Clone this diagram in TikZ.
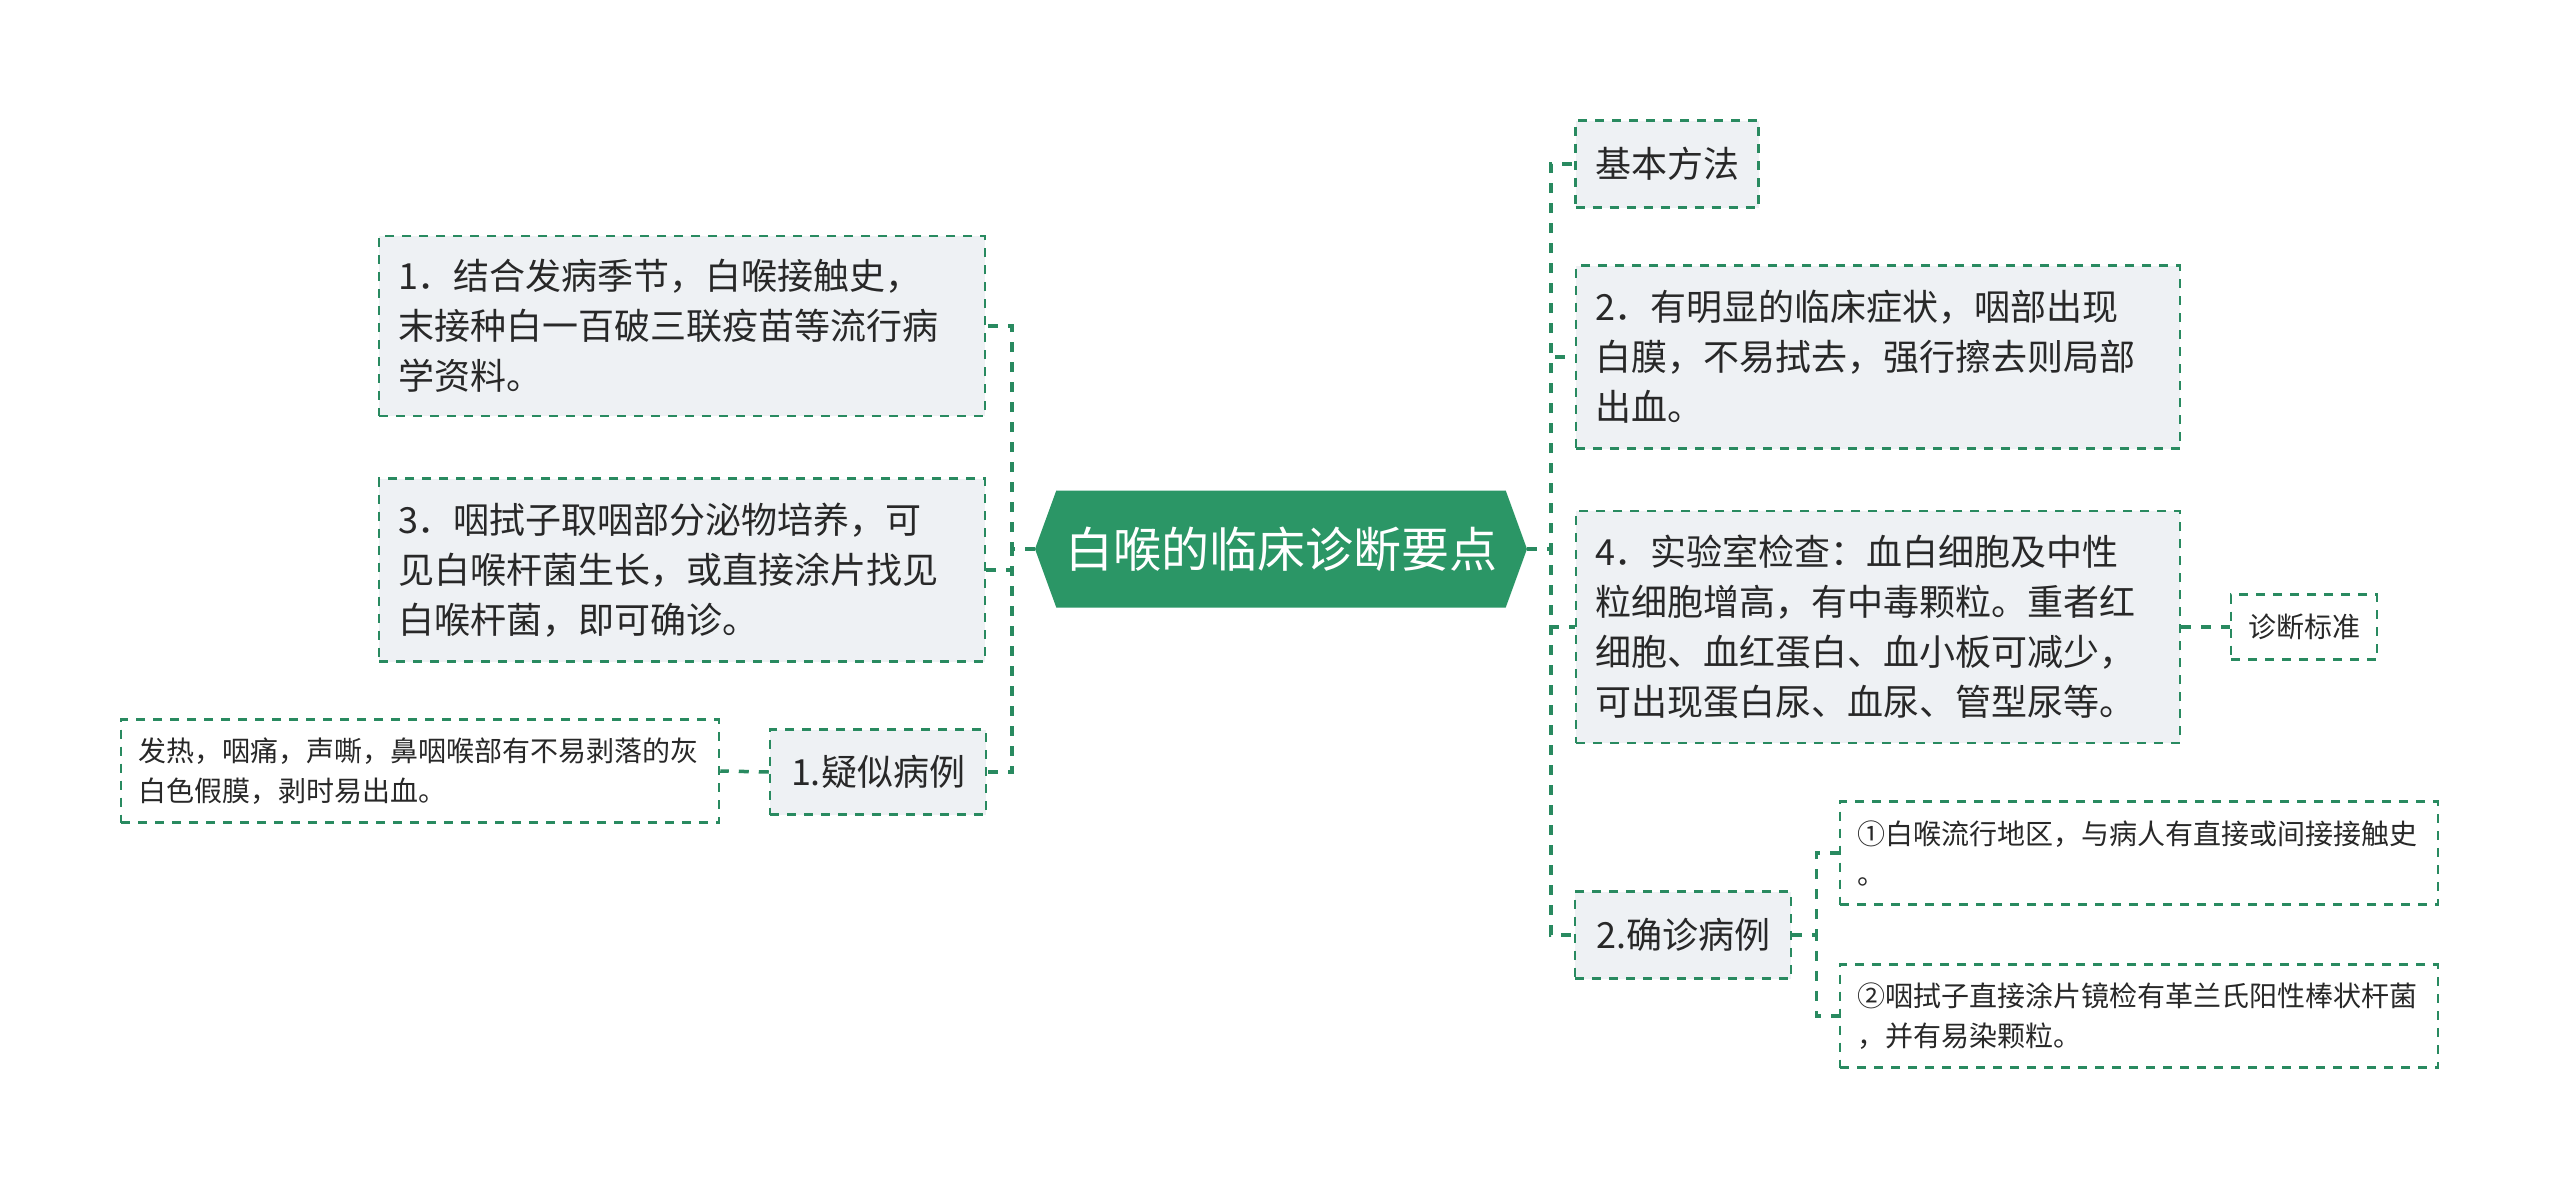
\documentclass[tikz,border=0pt]{standalone}
\usepackage{fontspec}
\newfontfamily\cjk{Noto Sans CJK SC}
\usetikzlibrary{shapes.symbols}
\definecolor{lineGreen}{RGB}{41,138,96}
\definecolor{rootGreen}{RGB}{43,150,102}
\definecolor{boxGray}{RGB}{238,241,244}
\definecolor{inkGray}{RGB}{40,40,40}
\begin{document}
\begin{tikzpicture}[
  x=1pt, y=-1pt,
  hub/.style={signal, signal to=west and east, signal pointer angle=140, fill=rootGreen, text=white,
    font=\cjk\fontsize{48}{58}\selectfont, minimum width=492pt, minimum height=117pt, inner sep=0pt},
  topic/.style={draw=lineGreen, fill=boxGray, line width=2.5pt, dash pattern=on 9pt off 8pt, text=inkGray,
    font=\cjk\fontsize{36}{50}\selectfont, inner xsep=19pt, inner ysep=0pt, align=left},
  leaf/.style={topic, fill=white, font=\cjk\fontsize{28}{40}\selectfont, inner xsep=17pt},
  link/.style={draw=lineGreen, line width=3.5pt, dash pattern=on 10pt off 10pt}
]
\useasboundingbox[fill=white] (0,0) rectangle (2560,1189);
\node[hub] (root) at (1281,549) {白喉的临床诊断要点};
\node[topic, text width=568pt, minimum height=180pt] (combine) at (682,326) {1．结合发病季节，白喉接触史，\\末接种白一百破三联疫苗等流行病\\学资料。};
\node[topic, text width=568pt, minimum height=183pt] (swab) at (682,570) {3．咽拭子取咽部分泌物培养，可\\见白喉杆菌生长，或直接涂片找见\\白喉杆菌，即可确诊。};
\node[topic, minimum width=216pt, minimum height=85pt] (suspect) at (878,772) {1.疑似病例};
\node[leaf, text width=564pt, minimum height=103pt] (symptom) at (420,771) {发热，咽痛，声嘶，鼻咽喉部有不易剥落的灰\\白色假膜，剥时易出血。};
\node[topic, minimum width=183pt, minimum height=87pt] (method) at (1667,164) {基本方法};
\node[topic, text width=566pt, minimum height=183pt] (membrane) at (1878,357) {2．有明显的临床症状，咽部出现\\白膜，不易拭去，强行擦去则局部\\出血。};
\node[topic, text width=566pt, minimum height=232pt] (lab) at (1878,627) {4．实验室检查：血白细胞及中性\\粒细胞增高，有中毒颗粒。重者红\\细胞、血红蛋白、血小板可减少，\\可出现蛋白尿、血尿、管型尿等。};
\node[leaf, minimum width=144pt, minimum height=65pt] (criteria) at (2304,627) {诊断标准};
\node[topic, minimum width=216pt, minimum height=87pt] (confirm) at (1683,935) {2.确诊病例};
\node[leaf, text width=564pt, minimum height=103pt] (contact) at (2139,853) {①白喉流行地区，与病人有直接或间接接触史\\。};
\node[leaf, text width=564pt, minimum height=103pt] (smear) at (2139,1016) {②咽拭子直接涂片镜检有革兰氏阳性棒状杆菌\\，并有易染颗粒。};
\draw[link] (root.west) -- ++(-23,0) |- (combine.east);
\draw[link] (root.west) -- ++(-23,0) |- (swab.east);
\draw[link] (root.west) -- ++(-23,0) |- (suspect.east);
\draw[link] (suspect.west) -- (symptom.east);
\draw[link] (root.east) -- ++(24,0) |- (method.west);
\draw[link] (root.east) -- ++(24,0) |- (membrane.west);
\draw[link] (root.east) -- ++(24,0) |- (lab.west);
\draw[link] (root.east) -- ++(24,0) |- (confirm.west);
\draw[link] (lab.east) -- (criteria.west);
\draw[link] (confirm.east) -- ++(24,0) |- (contact.west);
\draw[link] (confirm.east) -- ++(24,0) |- (smear.west);
\end{tikzpicture}
\end{document}
